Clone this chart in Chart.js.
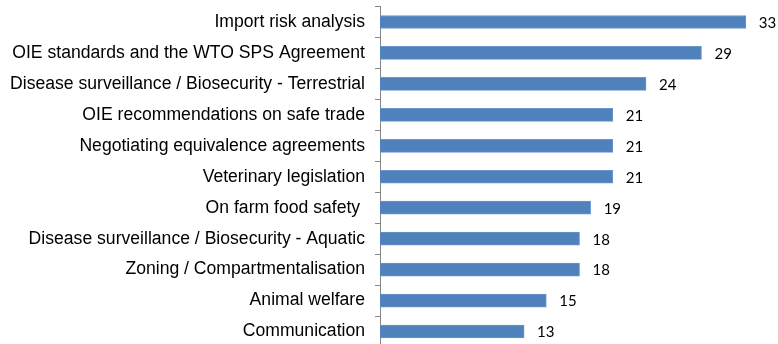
<!DOCTYPE html>
<html>
<head>
<meta charset="utf-8">
<script src="https://cdn.jsdelivr.net/npm/chart.js@4.4.1/dist/chart.umd.min.js"></script>
<style>
  html, body { margin:0; padding:0; background:#fff; overflow:hidden; }
  #wrap { position:relative; width:778px; height:350px; }
</style>
</head>
<body>
<div id="wrap"><canvas id="c"></canvas></div>
<script>
const topics = [
  "Import risk analysis",
  "OIE standards and the WTO SPS Agreement",
  "Disease surveillance / Biosecurity - Terrestrial",
  "OIE recommendations on safe trade",
  "Negotiating equivalence agreements",
  "Veterinary legislation",
  "On farm food safety ",
  "Disease surveillance / Biosecurity - Aquatic",
  "Zoning / Compartmentalisation",
  "Animal welfare",
  "Communication"
];
const counts = [33, 29, 24, 21, 21, 21, 19, 18, 18, 15, 13];
const xMax = 35;

// value text just past the end of each bar
const valueLabels = {
  id: "valueLabels",
  afterDatasetsDraw(chart) {
    const ctx = chart.ctx;
    const meta = chart.getDatasetMeta(0);
    ctx.save();
    ctx.font = "15px Lato";
    ctx.fillStyle = "#000";
    ctx.textBaseline = "middle";
    meta.data.forEach((bar, i) => {
      ctx.fillText(String(counts[i]), bar.x + 13, bar.y + 1);
    });
    ctx.restore();
  }
};

new Chart(document.getElementById("c"), {
  type: "bar",
  data: {
    labels: topics,
    datasets: [{
      data: counts,
      backgroundColor: "#4F81BD",
      borderColor: "#6A95C9",
      borderWidth: 1,
      borderSkipped: "start",
      barThickness: 13
    }]
  },
  options: {
    indexAxis: "y",
    responsive: true,
    maintainAspectRatio: false,
    animation: false,
    layout: { padding: { top: 6.5, right: 10, bottom: 3, left: 0 } },
    plugins: { legend: { display: false }, tooltip: { enabled: false } },
    scales: {
      x: { display: false, min: 0, max: xMax },
      y: {
        afterFit(scale) {
          scale.width = 380;
          scale.paddingTop = 0;
          scale.paddingBottom = 0;
        },
        border: { display: true, color: "#868686", width: 1 },
        grid: { display: true, offset: true, drawOnChartArea: false, tickLength: 5, color: "#868686" },
        ticks: { color: "#000", font: { family: "Liberation Sans", size: 17.6 }, padding: 10 }
      }
    }
  },
  plugins: [valueLabels]
});
</script>
</body>
</html>
